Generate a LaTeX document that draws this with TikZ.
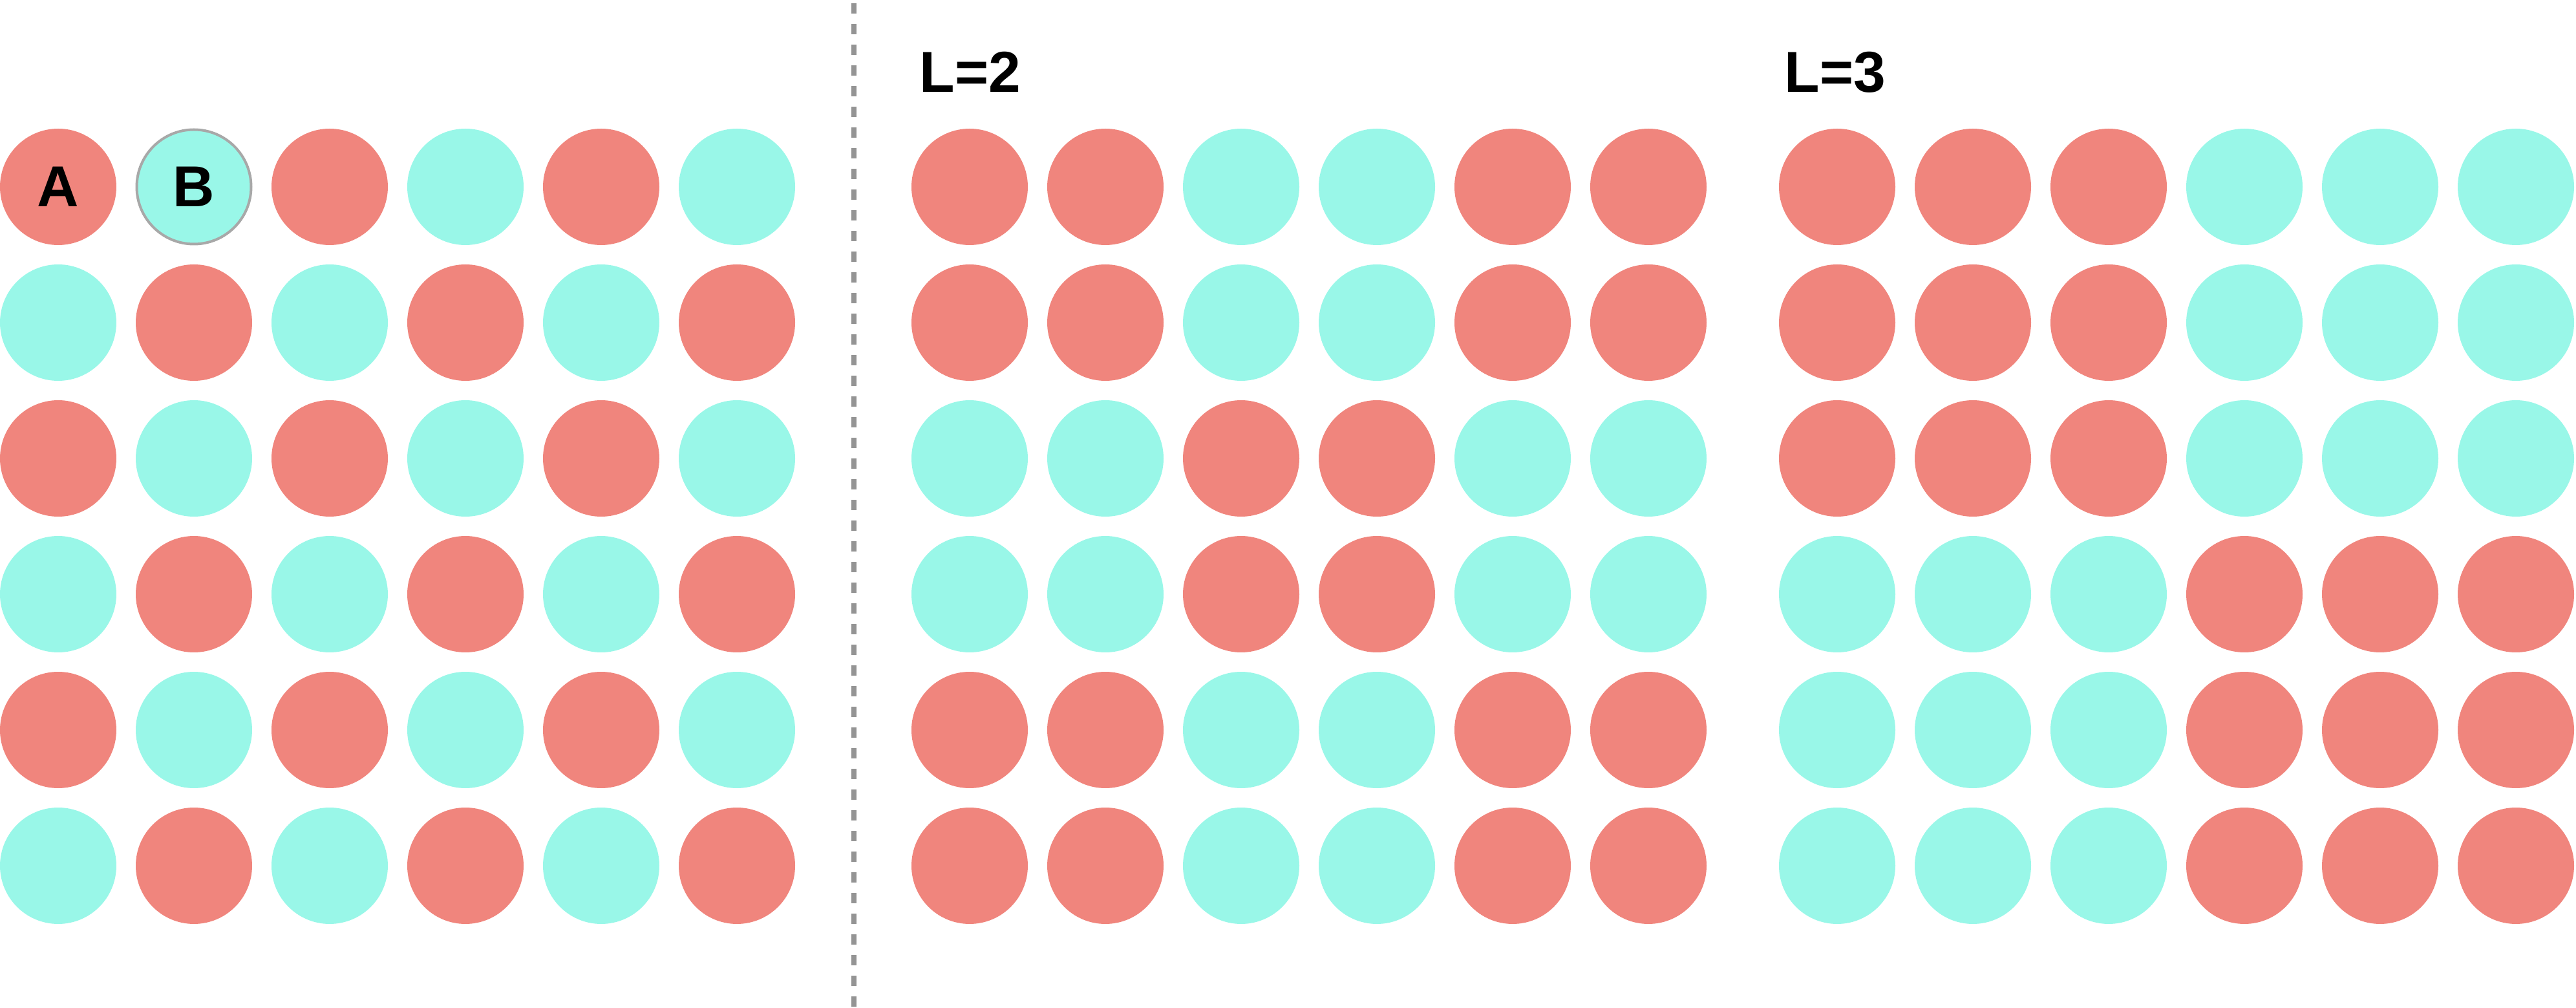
\documentclass[tikz,border=0pt]{standalone}
\usepackage{fontspec}
\setmainfont{Liberation Sans}
\definecolor{redball}{HTML}{F0857D}
\definecolor{cyanball}{HTML}{99F7E8}
\definecolor{divider}{HTML}{949494}
\definecolor{ring}{HTML}{A8A8A8}

\tikzset{
	ball/.style={circle, minimum size=1.8cm, inner sep=0pt, font=\fontsize{25.4}{30}\selectfont\bfseries},
	heading/.style={inner sep=0pt, anchor=base west, font=\fontsize{25.4}{30}\selectfont\bfseries}
}

\begin{document}
\begin{tikzpicture}
		\useasboundingbox (0,0) rectangle (39.85,15.58);
		
		% divider
		\coordinate (top) at (13.21,15.58);
		\coordinate (bottom) at (13.21,0);
		\draw[divider, line width=0.08cm, dash pattern=on 0.16cm off 0.16cm, dash phase=-0.05cm] (top) -- (bottom);
		
		% lattices with block size L
		\foreach \L/\xo in {1/0.90, 2/15.00, 3/28.42} {
			\foreach \i in {0,...,5} {
				\foreach \j in {0,...,5} {
					\pgfmathtruncatemacro{\parity}{mod(floor(\i/\L)+floor(\j/\L),2)}
					\ifnum\parity=0 \def\ballcol{redball}\else\def\ballcol{cyanball}\fi
					\node[ball, fill=\ballcol] (g\L-\i-\j) at ({\xo+2.1*\j},{12.69-2.1*\i}) {};
				}
			}
		}
		
		% sites A and B
		\draw[ring, line width=0.04cm] (g1-0-1.center) circle (0.885);
		\node[ball] (A) at (g1-0-0) {A};
		\node[ball] (B) at (g1-0-1) {B};
		
		% headings
		\node[heading] (L2) at (14.22,14.15) {L=2};
		\node[heading] (L3) at (27.60,14.15) {L=3};
		
	\end{tikzpicture}
\end{document}
